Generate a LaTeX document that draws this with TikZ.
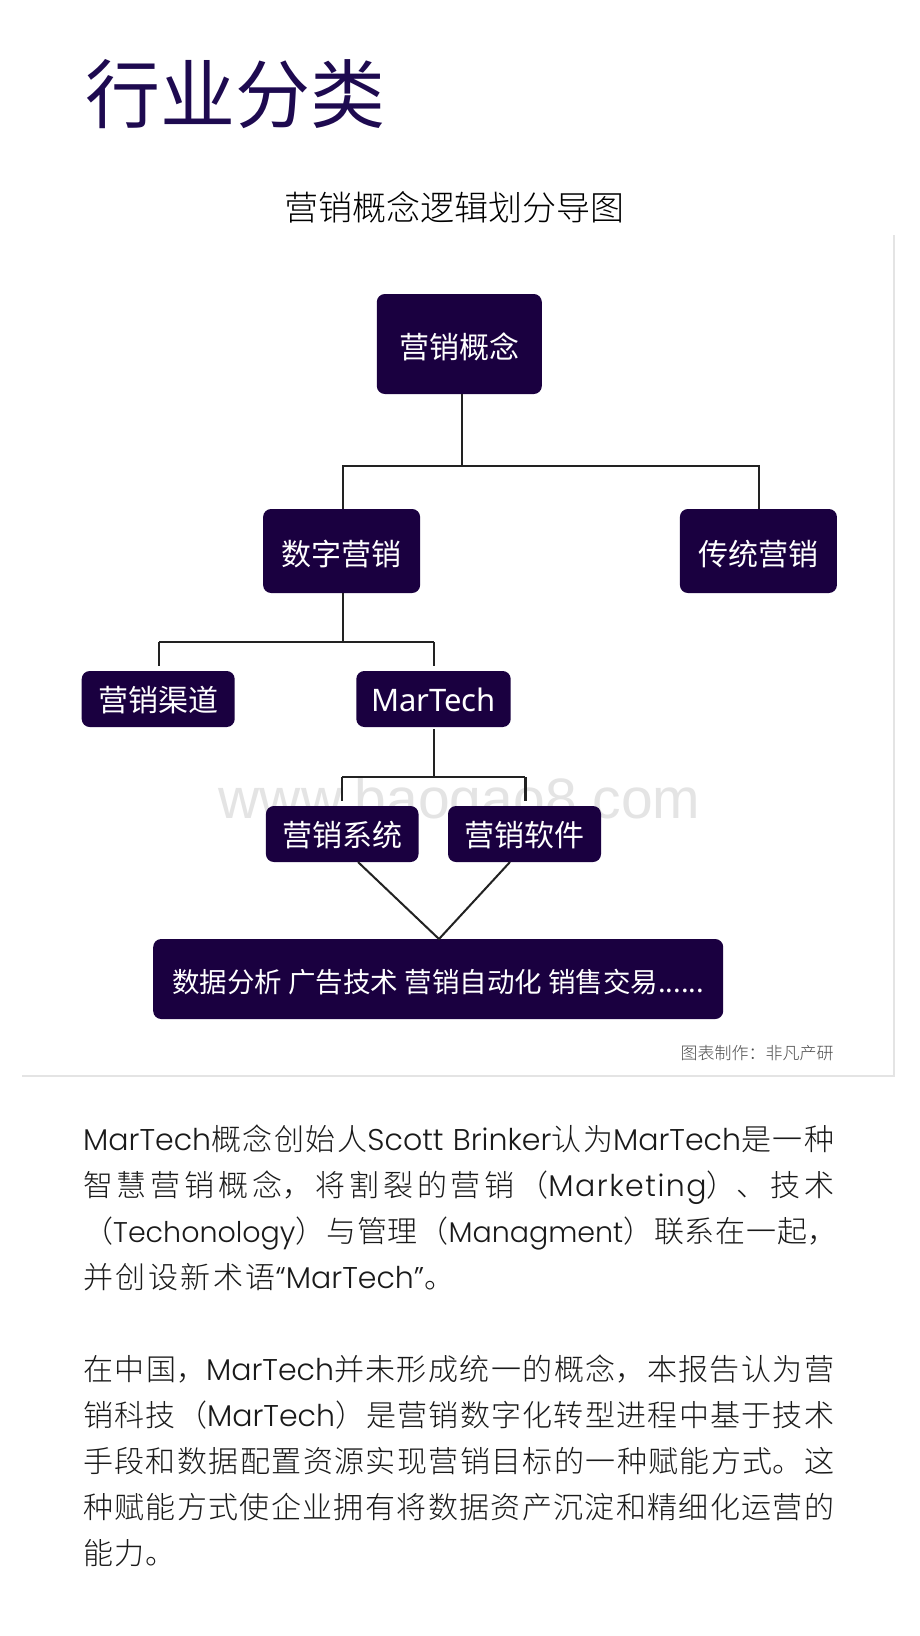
\documentclass[tikz,border=0pt]{standalone}
\usepackage{fontspec}
\setmainfont{Noto Sans CJK SC}
\newfontfamily\lightcjk{Noto Sans CJK SC Light}
\newfontfamily\latn{Poppins Light}
\newfontfamily\latns{Poppins Light}[LetterSpace=5]
\newfontfamily\boxlat{Noto Sans}
\newfontfamily\wm{Liberation Sans}
\XeTeXlinebreaklocale "zh"
\XeTeXlinebreakskip=0pt plus 6pt minus 1pt
\definecolor{boxc}{HTML}{1A0040}
\definecolor{titlec}{HTML}{1E0A50}
\definecolor{linec}{HTML}{222222}
\definecolor{framec}{HTML}{E4E4E4}
\definecolor{wmc}{HTML}{E4E4E4}
\definecolor{bodyc}{HTML}{1A1A1A}
\newcommand{\boxtxt}[2]{\raisebox{-#1pt}[0pt][0pt]{#2}}
\newcommand{\fs}[1]{\fontsize{#1}{#1}\selectfont}
\newcommand{\jw}[2]{\parbox[b]{#1pt}{\parindent=0pt\parfillskip=0pt\tolerance=10000\hbadness=10000\hfuzz=20pt\leavevmode #2}}
\newcommand{\jl}[1]{\jw{751}{#1}}
\tikzset{
  orgbox/.style={draw=none,fill=boxc,rounded corners=8pt,inner sep=0pt,text=white,font=\fs{30}},
  conn/.style={draw=linec,line width=2.3pt},
  bodyline/.style={anchor=base west,inner sep=0pt,text=bodyc,font=\lightcjk\fs{30}},
}
\begin{document}
\begin{tikzpicture}[x=1pt,y=-1pt]
\useasboundingbox (0,0) rectangle (920,1636);
\fill[white] (0,0) rectangle (920,1636);
% frame
\draw[framec,line width=1.5pt] (894,235) -- (894,1076) -- (22,1076);
% watermark
\node[anchor=base,inner sep=0pt,text=wmc,font=\wm\fs{57}] (mark) at (459.5,818) {www.baogao8.com};
% heading
\node[anchor=center,inner sep=0pt,text=titlec,font=\fs{75}] (title) at (235,94) {行业分类};
\node[anchor=center,inner sep=0pt,text=black,font=\lightcjk\fs{34}] (sub) at (454,207) {营销概念逻辑划分导图};
% boxes
\node[orgbox,minimum width=165pt,minimum height=100pt] (root) at (459.3,344) {\boxtxt{14.5}{营销概念}};
\node[orgbox,minimum width=157pt,minimum height=84pt] (dig) at (341.6,551) {\boxtxt{14.5}{数字营销}};
\node[orgbox,minimum width=157pt,minimum height=84pt] (trad) at (758.4,551) {\boxtxt{14.5}{传统营销}};
\node[orgbox,minimum width=153pt,minimum height=56pt] (chan) at (158.2,699) {\boxtxt{12.7}{营销渠道}};
\node[orgbox,minimum width=154.4pt,minimum height=56pt,font=\boxlat\fs{31}] (mt) at (433.5,699) {\boxtxt{12}{MarTech}};
\node[orgbox,minimum width=152.6pt,minimum height=56pt] (sys) at (342.2,834) {\boxtxt{12.5}{营销系统}};
\node[orgbox,minimum width=153pt,minimum height=56pt] (soft) at (524.5,834) {\boxtxt{12.5}{营销软件}};
\node[orgbox,minimum width=570pt,minimum height=80pt,font=\fs{27.5}] (bot) at (438.2,979) {\boxtxt{13.2}{数据分析 广告技术 营销自动化 销售交易......}};
% connectors
\coordinate (b1) at (462,466);
\coordinate (b1l) at (342.8,466);
\coordinate (b1r) at (759,466);
\coordinate (b2) at (342.8,642);
\coordinate (b2l) at (159,642);
\coordinate (b2r) at (433.8,642);
\coordinate (b3) at (433.8,777);
\coordinate (b3l) at (342.2,777);
\coordinate (b3r) at (525.4,777);
\coordinate (m) at (439,939);
\coordinate (d1) at (358,862);
\coordinate (d2) at (510,862);
\draw[conn] (root.south-|b1) -- (b1);
\draw[conn] (dig.north-|b1l) -- (b1l) -- (b1r) -- (trad.north-|b1r);
\draw[conn] (dig.south-|b2) -- (b2);
\draw[conn,shorten >=5pt] (b2l) -- (chan.north-|b2l);
\draw[conn] (b2l) -- (b2r);
\draw[conn,shorten >=5pt] (b2r) -- (mt.north-|b2r);
\draw[conn,shorten <=2pt] (mt.south-|b3) -- (b3);
\draw[conn] (b3l) -- (b3r);
\draw[conn,shorten >=5pt] (b3l) -- (sys.north-|b3l);
\draw[conn,shorten >=5pt] (b3r) -- (soft.north-|b3r);
\draw[draw=linec,line width=2pt] (d1) -- (m) -- (d2);
% credit
\node[anchor=center,inner sep=0pt,text=black!70,font=\lightcjk\fs{17}] (credit) at (757,1053) {图表制作：非凡产研};
% paragraph 1
\node[bodyline] (p1) at (83,1150) {\jl{{\latn MarTech}概念创始人{\latn Scott Brinker}认为{\latn MarTech}是一种}};
\node[bodyline] (p2) at (83,1196) {\jl{智慧营销概念，将割裂的营销（{\latns Marketing}）、技术}};
\node[bodyline] (p3) at (83,1242) {\jw{754}{（{\latn\fs{28.5}Techonology}）与管理（{\latn\fs{28.5}Managment}）联系在一起，}};
\node[bodyline] (p4) at (83,1288) {\jw{371}{并创设新术语{\latn “MarTech”}。}};
% paragraph 2
\node[bodyline] (q1) at (83,1380) {\jl{在中国，{\latn MarTech}并未形成统一的概念，本报告认为营}};
\node[bodyline] (q2) at (83,1426) {\jl{销科技（{\latn MarTech}）是营销数字化转型进程中基于技术}};
\node[bodyline] (q3) at (83,1472) {\jl{手段和数据配置资源实现营销目标的一种赋能方式。这}};
\node[bodyline] (q4) at (83,1518) {\jl{种赋能方式使企业拥有将数据资产沉淀和精细化运营的}};
\node[bodyline] (q5) at (83,1564) {能\hspace{1.3pt}力\hspace{1.3pt}。};
\end{tikzpicture}
\end{document}
